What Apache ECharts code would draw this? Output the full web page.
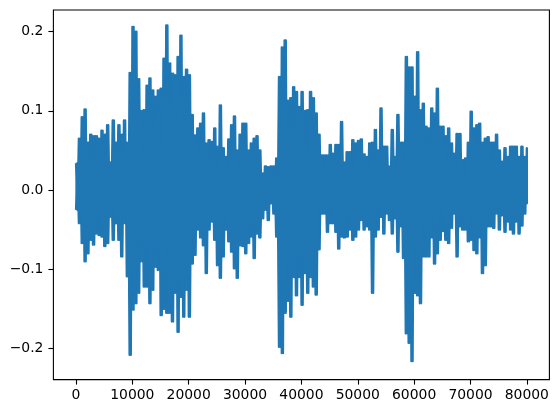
<!DOCTYPE html>
<html>
<head>
<meta charset="utf-8">
<script src="https://cdn.jsdelivr.net/npm/echarts@6/dist/echarts.min.js"></script>
<style>html,body{margin:0;padding:0;background:#fff}#c{width:559px;height:413px}</style>
</head>
<body>
<div id="c"></div>
<script>
// Envelope of the waveform, one value every 500 samples
const sampleStep = 500;
const upperEnvelope = [
0.034,0.065,0.092,0.102,0.06,0.07,0.068,0.068,0.065,0.075,
0.07,0.082,0.035,0.088,0.06,0.082,0.07,0.088,0.06,0.148,
0.206,0.2,0.14,0.1,0.101,0.132,0.141,0.126,0.118,0.126,
0.128,0.166,0.208,0.16,0.147,0.145,0.168,0.195,0.143,0.152,
0.145,0.095,0.069,0.078,0.084,0.097,0.059,0.063,0.061,0.078,
0.055,0.107,0.053,0.042,0.064,0.082,0.093,0.05,0.07,0.084,
0.084,0.05,0.059,0.065,0.068,0.05,0.021,0.03,0.029,0.03,
0.03,0.04,0.143,0.18,0.189,0.113,0.116,0.13,0.124,0.105,
0.124,0.1,0.101,0.124,0.116,0.097,0.07,0.044,0.044,0.044,
0.057,0.046,0.057,0.057,0.086,0.035,0.048,0.048,0.063,0.059,
0.062,0.064,0.045,0.042,0.059,0.06,0.076,0.05,0.103,0.055,
0.055,0.03,0.076,0.042,0.095,0.06,0.06,0.168,0.155,0.155,
0.118,0.174,0.101,0.109,0.08,0.078,0.103,0.097,0.128,0.08,
0.08,0.068,0.078,0.059,0.046,0.071,0.071,0.038,0.04,0.06,
0.099,0.078,0.082,0.084,0.06,0.065,0.067,0.06,0.06,0.07,
0.05,0.036,0.053,0.042,0.055,0.055,0.055,0.042,0.055,0.042,
0.053
];
const lowerEnvelope = [
-0.025,-0.042,-0.067,-0.09,-0.08,-0.063,-0.069,-0.055,-0.057,-0.059,
-0.071,-0.067,-0.034,-0.063,-0.042,-0.063,-0.084,-0.042,-0.109,-0.208,
-0.151,-0.143,-0.13,-0.09,-0.122,-0.122,-0.143,-0.126,-0.097,-0.101,
-0.158,-0.15,-0.155,-0.155,-0.166,-0.13,-0.179,-0.135,-0.16,-0.126,
-0.16,-0.093,-0.082,-0.05,-0.06,-0.07,-0.105,-0.05,-0.04,-0.063,
-0.095,-0.111,-0.084,-0.05,-0.065,-0.078,-0.099,-0.111,-0.07,-0.071,
-0.08,-0.067,-0.059,-0.086,-0.055,-0.06,-0.036,-0.025,-0.038,-0.017,
-0.03,-0.059,-0.198,-0.206,-0.155,-0.14,-0.16,-0.11,-0.133,-0.11,
-0.145,-0.105,-0.13,-0.11,-0.122,-0.132,-0.075,-0.03,-0.03,-0.053,
-0.042,-0.042,-0.053,-0.074,-0.059,-0.06,-0.059,-0.05,-0.063,-0.059,
-0.05,-0.038,-0.05,-0.046,-0.05,-0.13,-0.059,-0.05,-0.034,-0.055,
-0.03,-0.038,-0.055,-0.036,-0.078,-0.046,-0.086,-0.181,-0.193,-0.216,
-0.13,-0.133,-0.143,-0.084,-0.084,-0.084,-0.06,-0.093,-0.08,-0.063,
-0.052,-0.063,-0.067,-0.048,-0.03,-0.084,-0.046,-0.05,-0.05,-0.065,
-0.063,-0.076,-0.08,-0.06,-0.105,-0.095,-0.046,-0.046,-0.048,-0.03,
-0.05,-0.032,-0.053,-0.04,-0.05,-0.055,-0.04,-0.055,-0.045,-0.03,
-0.017
];
const xTicks = [0,10000,20000,30000,40000,50000,60000,70000,80000];
const yTicks = [-0.2,-0.1,0,0.1,0.2];

// Waveform drawn as zigzags between envelope max and min (two phases so the band is solid)
function zigzag(firstArr, secondArr) {
  const pts = [];
  for (let i = 0; i < firstArr.length; i++) {
    pts.push([i * sampleStep, firstArr[i]]);
    if (i < firstArr.length - 1) pts.push([i * sampleStep + sampleStep / 2, secondArr[i]]);
    else pts.push([i * sampleStep, secondArr[i]]);
  }
  return pts;
}
const waveA = zigzag(upperEnvelope, lowerEnvelope);
const waveB = zigzag(lowerEnvelope, upperEnvelope);

const font = 'DejaVu Sans';
const lineStyle = {color: '#1f77b4', width: 2.1, join: 'round'};
const chart = echarts.init(document.getElementById('c'), null, {renderer: 'canvas'});
chart.setOption({
  animation: false,
  grid: {left: 53.4, top: 10, width: 496, height: 369.6, show: true, borderColor: '#000', borderWidth: 1.1, backgroundColor: 'transparent'},
  xAxis: {
    type: 'value', min: -4000, max: 84000,
    splitLine: {show: false},
    axisLine: {show: false, onZero: false},
    axisTick: {show: true, customValues: xTicks, length: 5, inside: false, lineStyle: {color: '#000', width: 1.1}},
    axisLabel: {customValues: xTicks, margin: 9, color: '#000', fontFamily: font, fontSize: 13.9, formatter: v => String(v)}
  },
  yAxis: {
    type: 'value', min: -0.2392, max: 0.2272,
    splitLine: {show: false},
    axisLine: {show: false, onZero: false},
    axisTick: {show: true, customValues: yTicks, length: 5, lineStyle: {color: '#000', width: 1.1}},
    axisLabel: {customValues: yTicks, margin: 10, color: '#000', fontFamily: font, fontSize: 13.9,
      formatter: v => (v < 0 ? '\u2212' : '') + Math.abs(v).toFixed(1)}
  },
  series: [
    {type: 'line', data: waveA, showSymbol: false, symbol: 'none', lineStyle: lineStyle, clip: true, silent: true},
    {type: 'line', data: waveB, showSymbol: false, symbol: 'none', lineStyle: lineStyle, clip: true, silent: true}
  ]
});
</script>
</body>
</html>
